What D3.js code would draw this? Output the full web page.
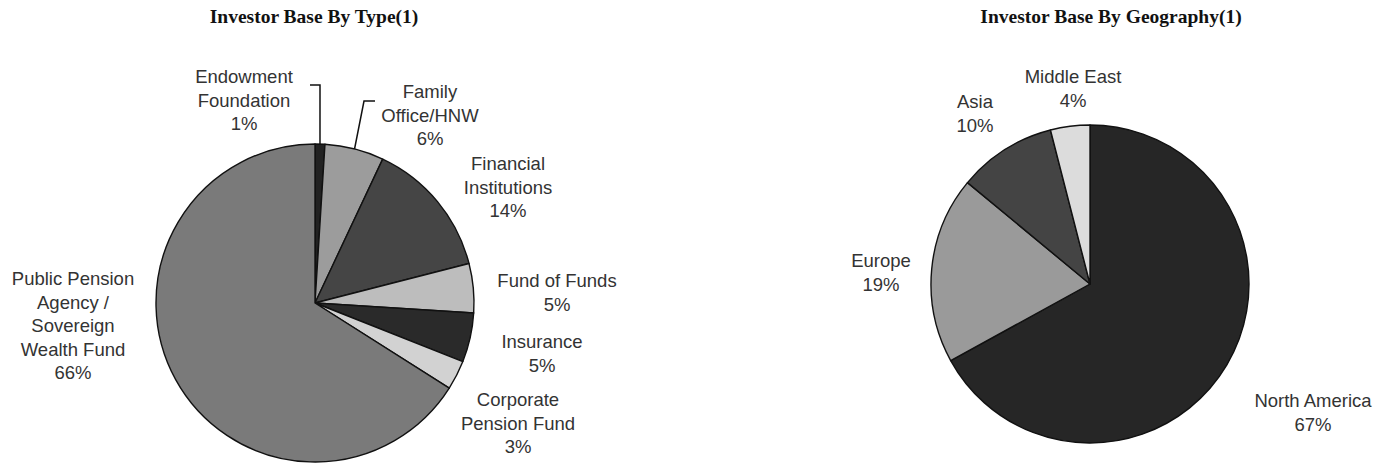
<!DOCTYPE html>
<html>
<head>
<meta charset="utf-8">
<script src="https://cdn.jsdelivr.net/npm/d3@7"></script>
<style>
  html, body { margin: 0; padding: 0; background: #fff; }
</style>
</head>
<body>
<script>
// data
const typeLabels = [
  ['Endowment', 'Foundation'],
  ['Family', 'Office/HNW'],
  ['Financial', 'Institutions'],
  ['Fund of Funds'],
  ['Insurance'],
  ['Corporate', 'Pension Fund'],
  ['Public Pension', 'Agency /', 'Sovereign', 'Wealth Fund']
];
const typeValues = [1, 6, 14, 5, 5, 3, 66];
const typeColors = ['#222', '#9c9c9c', '#454545', '#bdbdbd', '#2a2a2a', '#d2d2d2', '#7a7a7a'];

const geoLabels = [['North America'], ['Europe'], ['Asia'], ['Middle East']];
const geoValues = [67, 19, 10, 4];
const geoColors = ['#262626', '#9a9a9a', '#444', '#dcdcdc'];

const width = 1387;
const height = 463;
const radius = 159;
const lineH = 23.6;

// label anchors (center x, first baseline y)
const typeLabelPos = [[244, 83], [430, 98], [508, 170], [557, 287], [542, 348], [518, 406], [73, 285]];
const geoLabelPos = [[1313, 407], [881, 267], [975, 108], [1073, 83]];

const svg = d3.select('body')
  .append('svg')
  .attr('width', width)
  .attr('height', height)
  .attr('viewBox', [0, 0, width, height]);

function drawPie(cx, cy, title, titleX, values, labels, colors, labelPos, leaders) {
  svg.append('text')
    .attr('x', titleX)
    .attr('y', 23)
    .attr('text-anchor', 'middle')
    .style('font-family', '"Liberation Serif", "Times New Roman", serif')
    .style('font-weight', 'bold')
    .style('font-size', '19.5px')
    .style('fill', '#111')
    .text(title);

  const pie = d3.pie().sort(null).value((d) => d);
  const arcs = pie(values);
  const arc = d3.arc().innerRadius(0).outerRadius(radius);

  const g = svg.append('g').attr('transform', `translate(${cx},${cy})`);
  g.selectAll('path')
    .data(arcs)
    .join('path')
    .attr('d', arc)
    .attr('fill', (d, i) => colors[i])
    .attr('stroke', '#111')
    .attr('stroke-width', 1.4)
    .attr('stroke-linejoin', 'round');

  // leader lines, starting on the rim at the slice's mid angle
  leaders.forEach((l) => {
    const a = arcs[l.index];
    const mid = (a.startAngle + a.endAngle) / 2;
    const start = [cx + radius * Math.sin(mid), cy - radius * Math.cos(mid)];
    svg.append('path')
      .attr('d', d3.line()([start, ...l.points]))
      .attr('fill', 'none')
      .attr('stroke', '#111')
      .attr('stroke-width', 1.5);
  });

  labels.forEach((lines, i) => {
    const t = svg.append('text')
      .attr('text-anchor', 'middle')
      .style('font-family', '"Liberation Sans", Arial, Helvetica, sans-serif')
      .style('font-size', '18.5px')
      .style('fill', '#333');
    const all = lines.concat([values[i] + '%']);
    all.forEach((s, k) => {
      t.append('tspan')
        .attr('x', labelPos[i][0])
        .attr('y', labelPos[i][1] + k * lineH)
        .text(s);
    });
  });
}

drawPie(315, 303, 'Investor Base By Type(1)', 314, typeValues, typeLabels, typeColors, typeLabelPos, [
  { index: 0, points: [[320, 85], [310, 85]] },
  { index: 1, points: [[364, 101], [375, 101]] }
]);

drawPie(1090, 284, 'Investor Base By Geography(1)', 1111, geoValues, geoLabels, geoColors, geoLabelPos, []);
</script>
</body>
</html>
